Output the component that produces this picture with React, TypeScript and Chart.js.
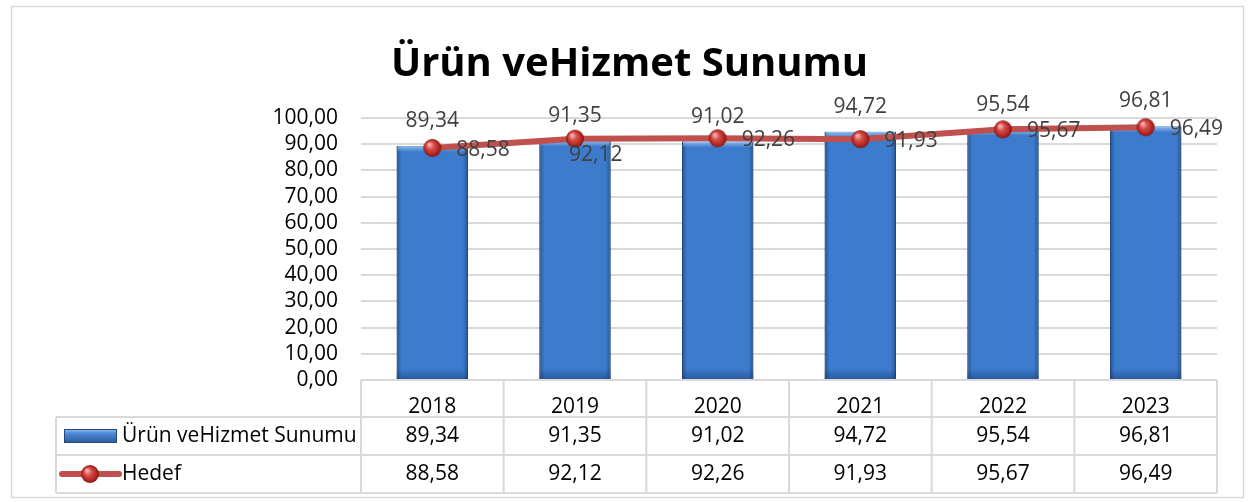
import React, { useEffect, useRef } from "react";
import { Chart, registerables } from "chart.js";

Chart.register(...registerables);

const title = "Ürün veHizmet Sunumu";
const years = ["2018", "2019", "2020", "2021", "2022", "2023"];
const barLabel = "Ürün veHizmet Sunumu";
const barValues = [89.34, 91.35, 91.02, 94.72, 95.54, 96.81];
const lineLabel = "Hedef";
const lineValues = [88.58, 92.12, 92.26, 91.93, 95.67, 96.49];
const yTicks = [0, 10, 20, 30, 40, 50, 60, 70, 80, 90, 100];

const FONT = "'Open Sans', 'Noto Sans', sans-serif";
const GRID = "#D9D9D9";
const RED = "#C0504D";

const fmt = (v: number) => v.toFixed(2).replace(".", ",");

function makeSphere(r: number): HTMLCanvasElement {
  const c = document.createElement("canvas");
  const s = r * 2 + 2;
  c.width = s;
  c.height = s;
  const g = c.getContext("2d")!;
  const cx = s / 2;
  const grad = g.createRadialGradient(cx - r * 0.35, cx - r * 0.4, r * 0.1, cx, cx, r);
  grad.addColorStop(0, "#F7B3B1");
  grad.addColorStop(0.35, "#D9504C");
  grad.addColorStop(0.8, "#B02520");
  grad.addColorStop(1, "#7E1714");
  g.fillStyle = grad;
  g.beginPath();
  g.arc(cx, cx, r, 0, Math.PI * 2);
  g.fill();
  return c;
}

export default function App() {
  const ref = useRef<HTMLCanvasElement>(null);

  useEffect(() => {
    const canvas = ref.current!;
    const sphere = makeSphere(9);

    const bevelPlugin = {
      id: "barBevel",
      afterDatasetDraw(chart: any, args: any) {
        if (args.index !== 1) return;
        const ctx = chart.ctx as CanvasRenderingContext2D;
        ctx.save();
        args.meta.data.forEach((el: any) => {
          const x0 = el.x - el.width / 2;
          const x1 = el.x + el.width / 2;
          const y0 = el.y;
          const y1 = el.base;
          const e = 5;
          // left/right edge shading
          const lg = ctx.createLinearGradient(x0, 0, x0 + e, 0);
          lg.addColorStop(0, "rgba(20,50,100,0.55)");
          lg.addColorStop(1, "rgba(20,50,100,0)");
          ctx.fillStyle = lg;
          ctx.fillRect(x0, y0, e, y1 - y0);
          const rg = ctx.createLinearGradient(x1 - e, 0, x1, 0);
          rg.addColorStop(0, "rgba(20,50,100,0)");
          rg.addColorStop(1, "rgba(20,50,100,0.55)");
          ctx.fillStyle = rg;
          ctx.fillRect(x1 - e, y0, e, y1 - y0);
          // bottom darker
          const bg = ctx.createLinearGradient(0, y1 - 10, 0, y1);
          bg.addColorStop(0, "rgba(20,50,100,0)");
          bg.addColorStop(1, "rgba(20,50,100,0.45)");
          ctx.fillStyle = bg;
          ctx.fillRect(x0, y1 - 10, x1 - x0, 10);
          // top light bevel
          const tg = ctx.createLinearGradient(0, y0, 0, y0 + 6);
          tg.addColorStop(0, "rgba(170,205,245,0.8)");
          tg.addColorStop(1, "rgba(170,205,245,0)");
          ctx.fillStyle = tg;
          ctx.fillRect(x0 + 1, y0, x1 - x0 - 2, 6);
        });
        ctx.restore();
      },
    };

    const labelsPlugin = {
      id: "valueLabels",
      afterDatasetsDraw(chart: any) {
        const ctx = chart.ctx as CanvasRenderingContext2D;
        ctx.save();
        ctx.font = `21px ${FONT}`;
        ctx.fillStyle = "#404040";
        ctx.textBaseline = "middle";
        const barMeta = chart.getDatasetMeta(1);
        barMeta.data.forEach((el: any, i: number) => {
          ctx.textAlign = "center";
          ctx.fillText(fmt(barValues[i]), el.x, el.y - 25);
        });
        const lineMeta = chart.getDatasetMeta(0);
        lineMeta.data.forEach((el: any, i: number) => {
          ctx.textAlign = "left";
          if (i === 1) ctx.fillText(fmt(lineValues[i]), el.x - 6, el.y + 16);
          else ctx.fillText(fmt(lineValues[i]), el.x + 24, el.y + 2);
        });
        ctx.restore();
      },
    };

    const tablePlugin = {
      id: "dataTable",
      beforeDraw(chart: any) {
        const ctx = chart.ctx as CanvasRenderingContext2D;
        ctx.save();
        ctx.fillStyle = "#fff";
        ctx.fillRect(0, 0, chart.width, chart.height);
        ctx.strokeStyle = GRID;
        ctx.lineWidth = 1.5;
        ctx.strokeRect(11.5, 6.5, 1232, 491);
        ctx.restore();
      },
      afterDraw(chart: any) {
        const ctx = chart.ctx as CanvasRenderingContext2D;
        const xs = chart.scales.x;
        const area = chart.chartArea;
        const top = area.bottom;
        const r1 = xs.bottom;
        const rowH = 38;
        const r2 = r1 + rowH;
        const r3 = r2 + rowH;
        const legendLeft = 56;
        const step = (area.right - area.left) / years.length;
        ctx.save();
        ctx.strokeStyle = GRID;
        ctx.lineWidth = 2;
        ctx.beginPath();
        ctx.moveTo(area.left, top);
        ctx.lineTo(area.right, top);
        [r1, r2, r3].forEach((y) => {
          ctx.moveTo(legendLeft, y);
          ctx.lineTo(area.right, y);
        });
        for (let i = 0; i <= years.length; i++) {
          const x = area.left + step * i;
          ctx.moveTo(x, top);
          ctx.lineTo(x, r3);
        }
        ctx.moveTo(legendLeft, r1);
        ctx.lineTo(legendLeft, r3);
        ctx.stroke();

        ctx.font = `21px ${FONT}`;
        ctx.fillStyle = "#000";
        ctx.textBaseline = "middle";
        ctx.textAlign = "center";
        years.forEach((_, i) => {
          const cx = xs.getPixelForValue(i);
          ctx.fillText(fmt(barValues[i]), cx, (r1 + r2) / 2);
          ctx.fillText(fmt(lineValues[i]), cx, (r2 + r3) / 2);
        });

        // legend keys
        const ry1 = (r1 + r2) / 2;
        const ry2 = (r2 + r3) / 2;
        const lg = ctx.createLinearGradient(0, ry1 - 7, 0, ry1 + 7);
        lg.addColorStop(0, "#9CC3F0");
        lg.addColorStop(0.3, "#4F8BD8");
        lg.addColorStop(1, "#2B5A98");
        ctx.fillStyle = lg;
        ctx.fillRect(64, ry1 - 7, 53, 14);
        ctx.strokeStyle = "#24487A";
        ctx.lineWidth = 1;
        ctx.strokeRect(64.5, ry1 - 6.5, 52, 13);

        ctx.strokeStyle = RED;
        ctx.lineWidth = 6;
        ctx.lineCap = "round";
        ctx.beginPath();
        ctx.moveTo(62, ry2);
        ctx.lineTo(119, ry2);
        ctx.stroke();
        ctx.drawImage(sphere, 90 - sphere.width / 2, ry2 - sphere.height / 2);

        ctx.fillStyle = "#000";
        ctx.textAlign = "left";
        ctx.fillText(barLabel, 122, ry1);
        ctx.fillText(lineLabel, 122, ry2);
        ctx.restore();
      },
    };

    const chart = new Chart(canvas, {
      type: "bar",
      data: {
        labels: years,
        datasets: [
          {
            type: "line",
            label: lineLabel,
            data: lineValues,
            borderColor: RED,
            borderWidth: 6,
            pointStyle: sphere as any,
            pointRadius: 9,
            tension: 0,
            order: 0,
          } as any,
          {
            type: "bar",
            label: barLabel,
            data: barValues,
            backgroundColor: "#3D7BCD",
            borderColor: "#2C5A96",
            borderWidth: 1,
            barPercentage: 0.5,
            categoryPercentage: 1,
            order: 1,
          } as any,
        ],
      },
      options: {
        responsive: false,
        maintainAspectRatio: false,
        animation: false,
        layout: { padding: { top: 0, left: 42, right: 35, bottom: 85 }, autoPadding: false } as any,
        plugins: {
          legend: { display: false },
          tooltip: { enabled: false },
          title: {
            display: true,
            text: title,
            color: "#000",
            font: { family: FONT, size: 40, weight: "bold" },
            padding: { top: 41, bottom: 29 },
          },
        },
        scales: {
          x: {
            grid: { display: false },
            border: { display: false },
            ticks: { font: { family: FONT, size: 21 }, color: "#000", padding: 6 },
            afterFit: (s: any) => {
              s.height = 37;
            },
          },
          y: {
            min: 0,
            max: 100,
            afterBuildTicks: (s: any) => {
              s.ticks = yTicks.map((v) => ({ value: v }));
            },
            ticks: {
              autoSkip: false,
              font: { family: FONT, size: 21 },
              color: "#000",
              padding: 23,
              callback: (v: any) => fmt(Number(v)),
            },
            grid: { color: GRID, lineWidth: 2, drawTicks: false },
            border: { display: false },
            afterFit: (s: any) => {
              s.width = 319;
            },
          },
        },
      },
      plugins: [tablePlugin, bevelPlugin, labelsPlugin],
    });
    return () => chart.destroy();
  }, []);

  return (
    <div style={{ position: "fixed", left: 0, top: 0, width: 1252, height: 502, background: "#fff" }}>
      <canvas ref={ref} width={1252} height={502} />
    </div>
  );
}
